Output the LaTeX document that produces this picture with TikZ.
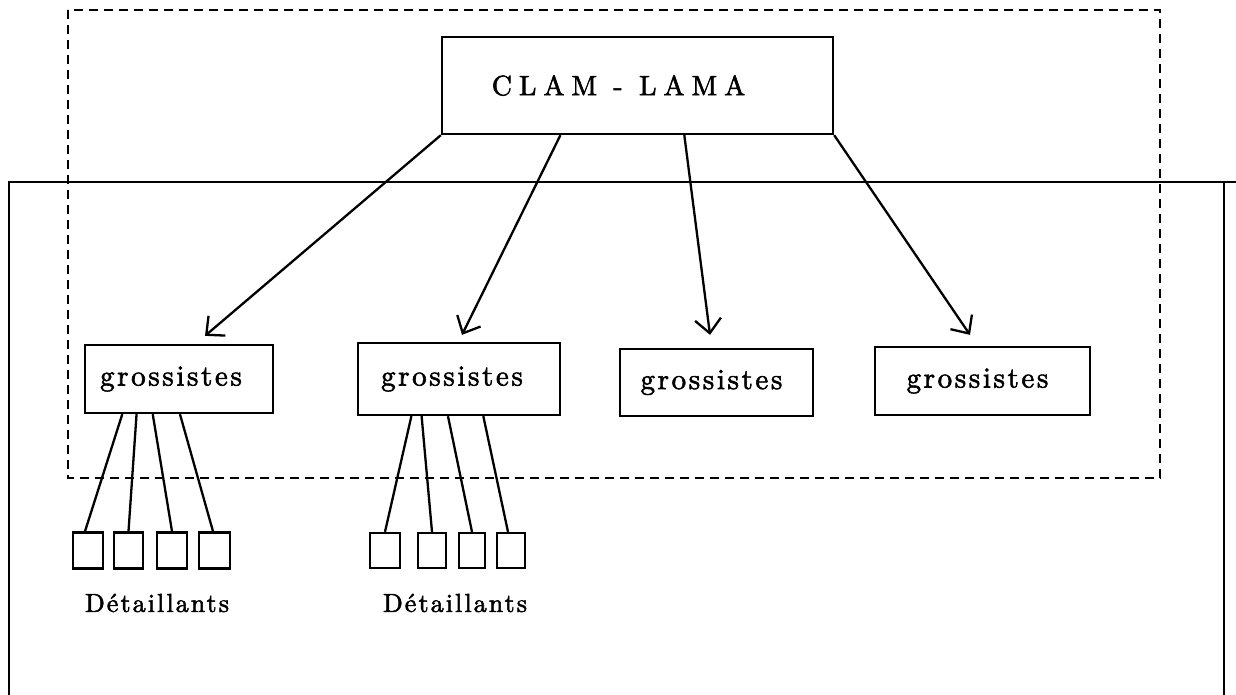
\documentclass[tikz,border=0pt]{standalone}
\usepackage{fontspec}
\newfontfamily\gfont{lmroman10-regular.otf}[LetterSpace=9,FakeBold=2]
\newfontfamily\cfont{lmroman10-regular.otf}[LetterSpace=25,FakeBold=2]
\newfontfamily\dfont{lmroman10-regular.otf}[LetterSpace=8,FakeBold=2]
\usetikzlibrary{arrows.meta,calc}
\tikzset{
  lw/.style={line width=2.3pt},
  box/.style={draw, lw, inner sep=0pt, rectangle},
  gbox/.style={box, font=\gfont\fontsize{29}{32}\selectfont},
  dbox/.style={box, minimum width=29pt, minimum height=36pt},
  lbl/.style={font=\dfont\fontsize{26}{30}\selectfont},
  arr/.style={lw, -{Straight Barb[length=14pt,width=26pt,line width=2.3pt]}},
  link/.style={lw},
  dsh/.style={lw, dash pattern=on 9pt off 6pt},
}
\begin{document}
\begin{tikzpicture}[x=1pt,y=-1pt]
\useasboundingbox (0,0) rectangle (1236,695);
% outer solid frame
\draw[lw] (9,695) -- (9,182) -- (1236,182);
\draw[lw] (1224,182) -- (1224,695);
% dashed frame
\draw[dsh] (68,10) rectangle (1160,478);
% top box
\node[box, minimum width=391pt, minimum height=97pt,
      font=\cfont\fontsize{28}{32}\selectfont] (clam) at (637.5,85.5) {CLAM - LAMA\hspace*{38pt}};
% grossistes
\node[gbox, minimum width=188pt, minimum height=68pt] (g1) at (179,379) {grossistes\hspace*{16pt}};
\node[gbox, minimum width=202pt, minimum height=72pt] (g2) at (459,379) {grossistes\hspace*{14pt}};
\node[gbox, minimum width=193pt, minimum height=67pt] (g3) at (716.5,382.5) {grossistes\hspace*{10pt}};
\node[gbox, minimum width=215pt, minimum height=68pt] (g4) at (982.5,381) {grossistes\hspace*{10pt}};
% retailers
\node[dbox, minimum width=30pt] (d11) at (88,550.5) {};
\node[dbox] (d12) at (128.5,550.5) {};
\node[dbox, minimum width=30pt] (d13) at (172,550.5) {};
\node[dbox, minimum width=31pt] (d14) at (214.5,550.5) {};
\node[dbox, minimum width=30pt, minimum height=35pt] (d21) at (385,550.5) {};
\node[dbox, minimum width=28pt, minimum height=35pt] (d22) at (432,550.5) {};
\node[dbox, minimum width=26pt, minimum height=35pt] (d23) at (472,550.5) {};
\node[dbox, minimum width=28pt, minimum height=35pt] (d24) at (511,550.5) {};
\node[lbl] (l1) at (157,603) {Détaillants};
\node[lbl] (l2) at (455,603) {Détaillants};
% arrows
\draw[arr] (clam.south west) -- ($(g1.north)+(26,-8)$);
\draw[arr] ($(clam.south west)!0.304!(clam.south east)$) -- ($(g2.north)+(3,-7)$);
\draw[arr] ($(clam.south west)!0.619!(clam.south east)$) -- ($(g3.north)+(-6.5,-13)$);
\draw[arr] (clam.south east) -- ($(g4.north)+(-12.5,-11)$);
% links to retailers
\draw[link] ($(g1.south west)!0.202!(g1.south east)$) -- ($(d11.north)+(-3,0)$);
\draw[link] ($(g1.south west)!0.277!(g1.south east)$) -- (d12.north);
\draw[link] ($(g1.south west)!0.362!(g1.south east)$) -- (d13.north);
\draw[link] ($(g1.south west)!0.505!(g1.south east)$) -- ($(d14.north)+(-1.5,0)$);
\draw[link] ($(g2.south west)!0.267!(g2.south east)$) -- (d21.north);
\draw[link] ($(g2.south west)!0.317!(g2.south east)$) -- (d22.north);
\draw[link] ($(g2.south west)!0.446!(g2.south east)$) -- (d23.north);
\draw[link] ($(g2.south west)!0.619!(g2.south east)$) -- ($(d24.north)+(-3,0)$);
\end{tikzpicture}
\end{document}
